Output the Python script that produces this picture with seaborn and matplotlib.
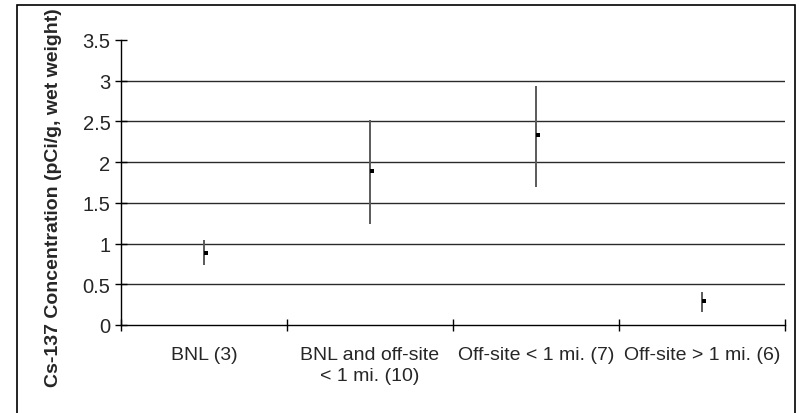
import numpy as np
import pandas as pd
import seaborn as sns
import matplotlib.pyplot as plt
from matplotlib.patches import Rectangle

# values
groups = ['BNL (3)', 'BNL and off-site\n< 1 mi. (10)', 'Off-site < 1 mi. (7)', 'Off-site > 1 mi. (6)']
mean_vals = [0.89, 1.89, 2.33, 0.29]
low_vals = [0.74, 1.24, 1.70, 0.16]
high_vals = [1.04, 2.52, 2.94, 0.41]
y_ticks = [0, 0.5, 1, 1.5, 2, 2.5, 3, 3.5]

df = pd.DataFrame({'group': groups, 'mean': mean_vals, 'low': low_vals, 'high': high_vals})
df['pos'] = np.arange(len(groups))

sns.set_style('white')
plt.rcParams['font.family'] = ['Liberation Sans', 'DejaVu Sans']

fig = plt.figure(figsize=(8, 4.14), dpi=100)
ax = fig.add_axes([0.15125, 0.2126, 0.83, 0.6884])

# outer frame (bottom cut off like the reference)
fig.patches.append(Rectangle((17 / 800, -0.02), (795 - 17) / 800, 1 - 6 / 414 + 0.02,
                             transform=fig.transFigure, fill=False, ec='black', lw=1.2))

# grid lines at every tick except the top
for v in y_ticks[1:-1]:
    ax.axhline(v, color='#2a2a2a', lw=1, zorder=0)

# high-low bars
ax.vlines(df['pos'], df['low'], df['high'], color='#5a5a5a', lw=1.4, zorder=2)
sns.scatterplot(data=df, x='pos', y='mean', marker='s', s=10, color='black',
                edgecolor='black', linewidth=0, ax=ax, zorder=3)
ax.collections[-1].set_offsets(np.column_stack([df['pos'] + 0.015, df['mean']]))

ax.set_xlim(-0.5, 3.5)
ax.set_ylim(0, 3.5)
ax.set_yticks(y_ticks)
ax.set_yticklabels(['0', '0.5', '1', '1.5', '2', '2.5', '3', '3.5'], fontsize=14.5)
ax.set_xticks(np.arange(-0.5, 4, 1))
ax.set_xticklabels([])
ax.set_xticks(df['pos'], minor=True)
ax.set_xticklabels(groups, minor=True, fontsize=14, va='top', linespacing=1.35)
ax.tick_params(axis='x', which='minor', length=0, pad=15, bottom=True)
ax.tick_params(axis='both', which='major', direction='inout', length=9, width=1,
               color='black', bottom=True, left=True)
ax.tick_params(axis='y', pad=3)

for s in ['top', 'right']:
    ax.spines[s].set_visible(False)
for s in ['left', 'bottom']:
    ax.spines[s].set_color('black')
    ax.spines[s].set_linewidth(1)

ax.set_xlabel('')
ax.set_ylabel('Cs-137 Concentration (pCi/g, wet weight)', fontsize=14, fontweight='bold')
ax.yaxis.set_label_coords(-0.089, 0.45)

fig.savefig('out.png', dpi=100)
